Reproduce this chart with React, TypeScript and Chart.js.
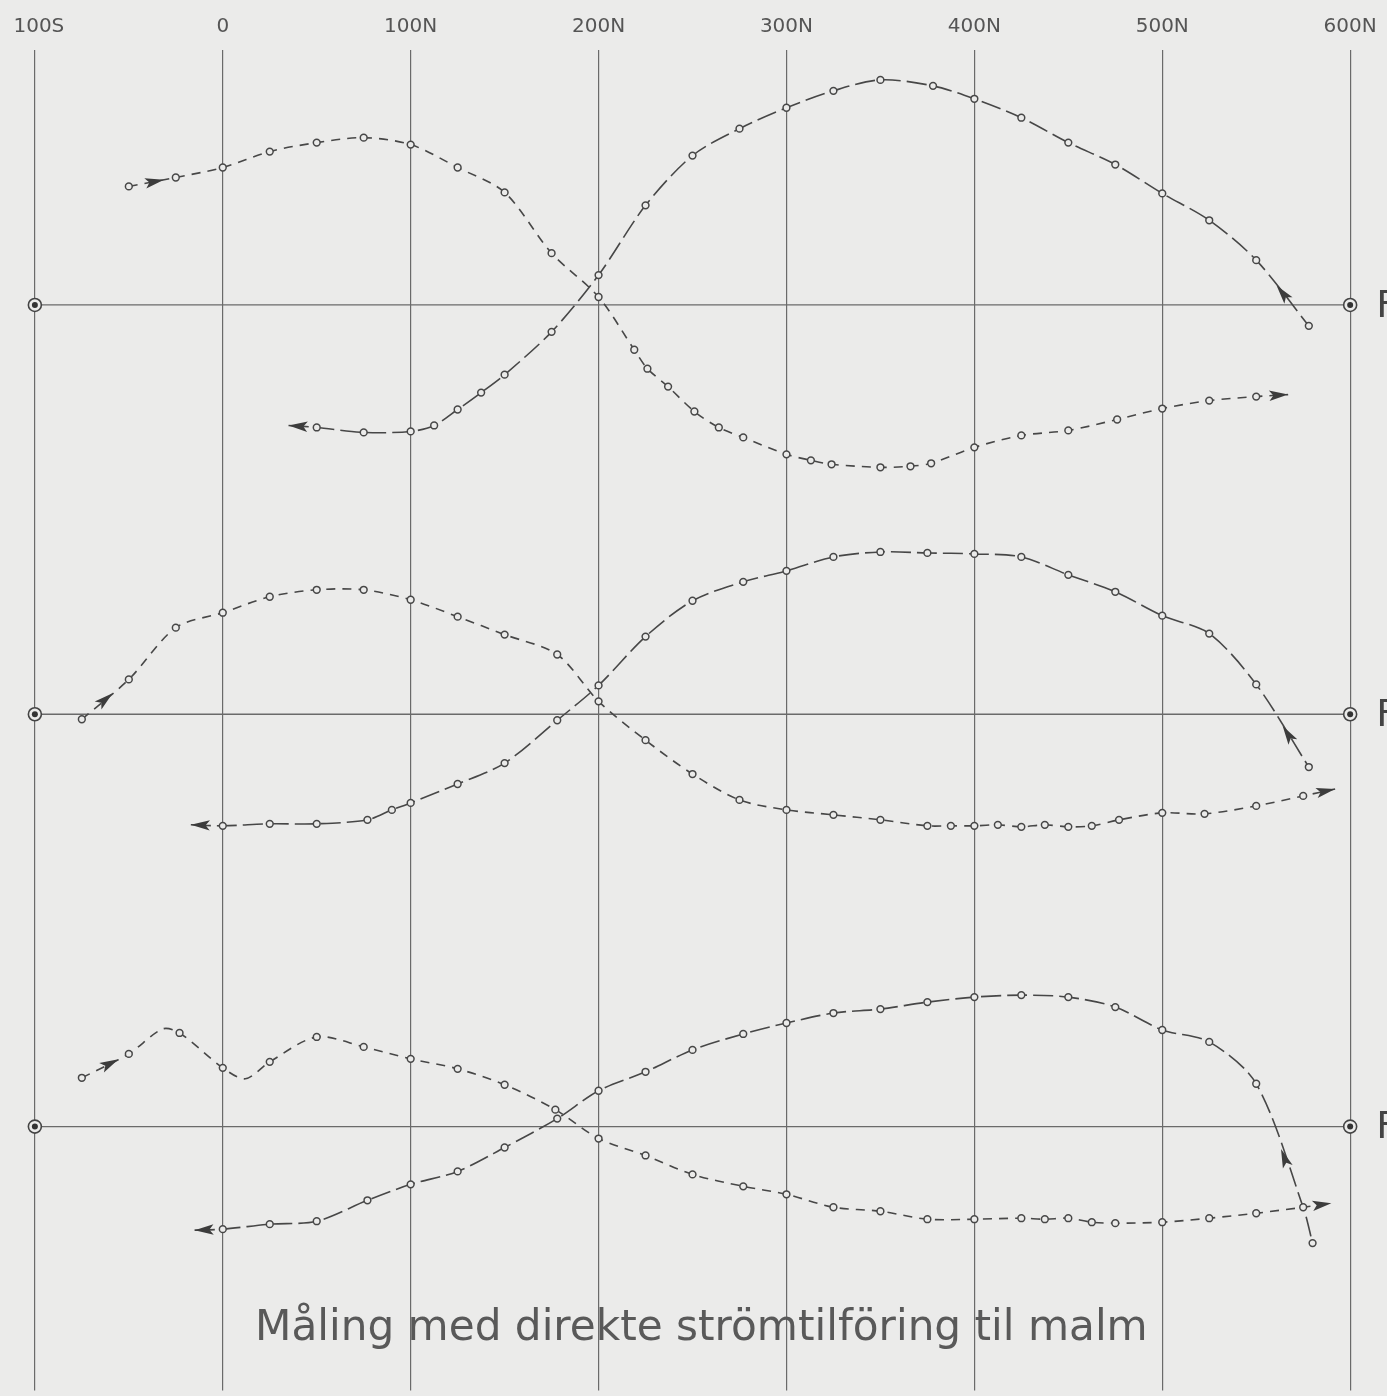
import React, { useEffect, useRef } from 'react';
import { Chart, registerables } from 'chart.js';

Chart.register(...registerables);

const W = 1387;
const H = 1396;

// ---- axis / labels ----
const xTickValues = [-100, 0, 100, 200, 300, 400, 500, 600];
const xTickLabels = ['100S', '0', '100N', '200N', '300N', '400N', '500N', '600N'];
const profileLabels = ['F1', 'F2', 'F3'];
const titleText = 'Måling med direkte strömtilföring til malm';

// ---- Profile 1 ----
const p1A_x = [-50, -25, 0, 25, 50, 75, 100, 125, 150, 175, 200, 219, 226, 237, 251, 264, 277, 300, 313, 324, 350, 366, 377, 400, 425, 450, 476, 500, 525, 550, 567];
const p1A_y = [119, 128, 138, 154, 163, 168, 161, 138, 113, 52, 8, -45, -64, -82, -107, -123, -133, -150, -156, -160, -163, -162, -159, -143, -131, -126, -115, -104, -96, -92, -90];
const p1A_guides = [30];
const p1B_x = [35, 50, 75, 100, 112.5, 125, 137.5, 150, 175, 200, 225, 250, 275, 300, 325, 350, 378, 400, 425, 450, 475, 500, 525, 550, 578];
const p1B_y = [-121, -123, -128, -127, -121, -105, -88, -70, -27, 30, 100, 150, 177, 198, 215, 226, 220, 207, 188, 163, 141, 112, 85, 45, -21];
const p1B_guides = [0];

// ---- Profile 2 ----
const p2A_x = [-75, -50, -25, 0, 25, 50, 75, 100, 125, 150, 178, 200, 225, 250, 275, 300, 325, 350, 375, 387.5, 400, 412.5, 425, 437.5, 450, 462.5, 477, 500, 522.5, 550, 575, 592];
const p2A_y = [-5, 35, 87, 102, 118, 125, 125, 115, 98, 80, 60, 13, -26, -60, -86, -96, -101, -106, -112, -112, -112, -111, -113, -111, -113, -112, -106, -99, -100, -92, -82, -75];
const p2A_guides = [31];
const p2B_x = [-17, 0, 25, 50, 77, 90, 100, 125, 150, 178, 200, 225, 250, 277, 300, 325, 350, 375, 400, 425, 450, 475, 500, 525, 550, 578];
const p2B_y = [-111, -112, -110, -110, -106, -96, -89, -70, -49, -6, 29, 78, 114, 133, 144, 158, 163, 162, 161, 158, 140, 123, 99, 81, 30, -53];
const p2B_guides = [0];

// ---- Profile 3 ----
const p3A_x = [-75, -50, -32, -23, 0, 12, 25, 50, 75, 100, 125, 150, 177, 200, 225, 250, 277, 300, 325, 350, 375, 400, 425, 437.5, 450, 462.5, 475, 500, 525, 550, 575, 590];
const p3A_y = [49, 73, 98, 94, 59, 48, 65, 90, 80, 68, 58, 42, 17, -12, -29, -48, -60, -68, -81, -85, -93, -93, -92, -93, -92, -96, -97, -96, -92, -87, -81, -77];
const p3A_guides = [2, 5, 31];
const p3B_x = [-15, 0, 25, 50, 77, 100, 125, 150, 178, 200, 225, 250, 277, 300, 325, 350, 375, 400, 425, 450, 475, 500, 525, 550, 575, 580];
const p3B_y = [-104, -103, -98, -95, -74, -58, -45, -21, 8, 36, 55, 77, 93, 104, 114, 118, 125, 130, 132, 130, 120, 97, 85, 43, -81, -117];
const p3B_guides = [0, 24];

// arrows: [fromIndex, toIndex, fraction]
const p1A_arrows = [[0, 1, 0.55], [29, 30, 1]];
const p1B_arrows = [[1, 0, 1], [24, 23, 0.5]];
const p2A_arrows = [[0, 1, 0.5], [30, 31, 1]];
const p2B_arrows = [[1, 0, 1], [25, 24, 0.4]];
const p3A_arrows = [[0, 1, 0.6], [30, 31, 1]];
const p3B_arrows = [[1, 0, 1], [24, 23, 0.4]];

// layout constants
const X_MIN = -115.63;
const X_MAX = 616.68;
const Y_MAX = 256;
const Y_MIN = -1090;
const profileOffsets = [0, -411, -825];

const PAPER = '#ebebea';
const INK = '#474747';
const GRID = '#6a6a6a';

function build(xs: number[], ys: number[], guides: number[], off: number) {
  return xs.map((x, i) => ({ x, y: ys[i] + off, m: !guides.includes(i) }));
}

function dataset(data: any[], dash: number[], arrows: number[][]) {
  return {
    data,
    showLine: true,
    tension: 0.3,
    borderColor: INK,
    borderWidth: 1.6,
    borderDash: dash,
    pointRadius: (c: any) => (c.raw && c.raw.m ? 3.4 : 0),
    pointBorderColor: INK,
    pointBackgroundColor: PAPER,
    pointBorderWidth: 1.5,
    fill: false,
    clip: false,
    arrows,
  } as any;
}

const SHORT = [9, 7];
const LONG = [20, 6];

function drawArrowHead(ctx: CanvasRenderingContext2D, x1: number, y1: number, x2: number, y2: number, t: number) {
  const len = 19;
  const half = 5.2;
  const ang = Math.atan2(y2 - y1, x2 - x1);
  const c = Math.cos(ang);
  const s = Math.sin(ang);
  const px = x1 + (x2 - x1) * t;
  const py = y1 + (y2 - y1) * t;
  const tipX = t >= 1 ? px : px + c * len * 0.5;
  const tipY = t >= 1 ? py : py + s * len * 0.5;
  const bx = tipX - c * len;
  const by = tipY - s * len;
  const nx = tipX - c * len * 0.78;
  const ny = tipY - s * len * 0.78;
  ctx.beginPath();
  ctx.moveTo(tipX, tipY);
  ctx.lineTo(bx - s * half, by + c * half);
  ctx.lineTo(nx, ny);
  ctx.lineTo(bx + s * half, by - c * half);
  ctx.closePath();
  ctx.fill();
}

const paperPlugin = {
  id: 'paper',
  beforeDraw(chart: any) {
    const ctx = chart.ctx;
    ctx.save();
    ctx.fillStyle = PAPER;
    ctx.fillRect(0, 0, chart.width, chart.height);
    ctx.restore();
  },
};

const decorPlugin = {
  id: 'decor',
  beforeDatasetsDraw(chart: any) {
    const ctx = chart.ctx;
    const xs = chart.scales.x;
    const ys = chart.scales.y;
    ctx.save();
    // tick labels
    ctx.fillStyle = '#555';
    ctx.font = '20px "DejaVu Sans"';
    ctx.textAlign = 'center';
    ctx.textBaseline = 'middle';
    xTickValues.forEach((v, i) => {
      ctx.fillText(xTickLabels[i], xs.getPixelForValue(v) + (i === 0 ? 4 : 0), 27);
    });
    // baselines
    profileOffsets.forEach((off, i) => {
      const y = ys.getPixelForValue(off);
      const xl = xs.getPixelForValue(-100);
      const xr = xs.getPixelForValue(600);
      ctx.strokeStyle = GRID;
      ctx.lineWidth = 1.3;
      ctx.beginPath();
      ctx.moveTo(xl, y);
      ctx.lineTo(xr, y);
      ctx.stroke();
      [xl, xr].forEach((cx) => {
        ctx.fillStyle = PAPER;
        ctx.strokeStyle = '#444';
        ctx.lineWidth = 1.6;
        ctx.beginPath();
        ctx.arc(cx, y, 6.5, 0, Math.PI * 2);
        ctx.fill();
        ctx.stroke();
        ctx.fillStyle = '#333';
        ctx.beginPath();
        ctx.arc(cx, y, 3, 0, Math.PI * 2);
        ctx.fill();
      });
      ctx.fillStyle = '#444';
      ctx.font = '38px "DejaVu Sans"';
      ctx.textAlign = 'left';
      ctx.textBaseline = 'middle';
      ctx.fillText(profileLabels[i], xr + 26, y + 2);
    });
    ctx.restore();
  },
  afterDatasetsDraw(chart: any) {
    const ctx = chart.ctx;
    ctx.save();
    ctx.fillStyle = '#3c3c3c';
    chart.data.datasets.forEach((ds: any, di: number) => {
      const meta = chart.getDatasetMeta(di);
      (ds.arrows || []).forEach((a: number[]) => {
        const p1 = meta.data[a[0]];
        const p2 = meta.data[a[1]];
        if (p1 && p2) drawArrowHead(ctx, p1.x, p1.y, p2.x, p2.y, a[2]);
      });
    });
    // title
    ctx.fillStyle = '#595959';
    ctx.font = '100px "DejaVu Sans"';
    const w = ctx.measureText(titleText).width;
    const size = (100 * 893) / w;
    ctx.font = `${size}px "DejaVu Sans"`;
    ctx.textAlign = 'left';
    ctx.textBaseline = 'alphabetic';
    ctx.fillText(titleText, 255, 1340);
    ctx.restore();
  },
};

export default function App() {
  const ref = useRef<HTMLCanvasElement | null>(null);
  useEffect(() => {
    document.body.style.margin = '0';
    const canvas = ref.current;
    if (!canvas) return;
    const datasets = [
      dataset(build(p1A_x, p1A_y, p1A_guides, profileOffsets[0]), SHORT, p1A_arrows),
      dataset(build(p1B_x, p1B_y, p1B_guides, profileOffsets[0]), LONG, p1B_arrows),
      dataset(build(p2A_x, p2A_y, p2A_guides, profileOffsets[1]), SHORT, p2A_arrows),
      dataset(build(p2B_x, p2B_y, p2B_guides, profileOffsets[1]), LONG, p2B_arrows),
      dataset(build(p3A_x, p3A_y, p3A_guides, profileOffsets[2]), SHORT, p3A_arrows),
      dataset(build(p3B_x, p3B_y, p3B_guides, profileOffsets[2]), LONG, p3B_arrows),
    ];
    const chart = new Chart(canvas, {
      type: 'scatter',
      data: { datasets },
      options: {
        responsive: false,
        maintainAspectRatio: false,
        animation: false,
        events: [],
        layout: { padding: { top: 50, left: 0, right: 0, bottom: 0 } },
        plugins: {
          legend: { display: false },
          tooltip: { enabled: false },
          title: { display: false },
        },
        scales: {
          x: {
            type: 'linear',
            position: 'top',
            min: X_MIN,
            max: X_MAX,
            afterBuildTicks: (s: any) => {
              s.ticks = xTickValues.map((v) => ({ value: v }));
            },
            ticks: { display: false },
            grid: { display: true, color: GRID, lineWidth: 1.2, drawTicks: false },
            border: { display: false },
          },
          y: { type: 'linear', display: false, min: Y_MIN, max: Y_MAX },
        },
      } as any,
      plugins: [paperPlugin, decorPlugin],
    });
    return () => chart.destroy();
  }, []);
  return (
    <div style={{ width: W, height: H }}>
      <canvas ref={ref} width={W} height={H} style={{ width: W, height: H, display: 'block' }} />
    </div>
  );
}
